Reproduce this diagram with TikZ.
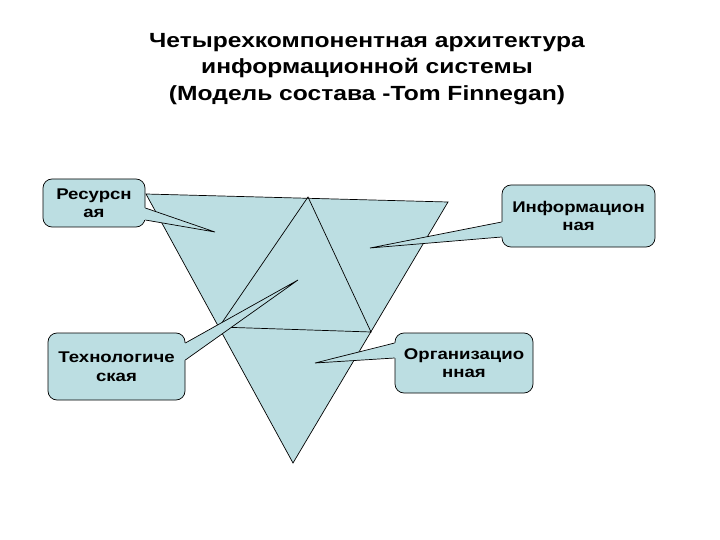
\documentclass[tikz,border=0pt]{standalone}
\usepackage{fontspec}
\setmainfont{Liberation Sans}[FakeStretch=1.2]
\usepackage{tikz}
\definecolor{callfill}{RGB}{188,222,226}
\tikzset{call node/.style={rectangle,rounded corners=9pt,fill=callfill,draw,line width=0.7pt,
	align=center,font=\bfseries\fontsize{15.5}{18.5}\selectfont,inner sep=0pt},
}

\begin{document}
\begin{tikzpicture}[x=1pt,y=-1pt,thin line/.style={draw,line width=0.7pt},
		title node/.style={align=center,font=\bfseries\fontsize{20.5}{26.5}\selectfont}]
		\useasboundingbox (0,0) rectangle (720,540);
		
		% triangle
		\coordinate (A) at (146,194);
		\coordinate (B) at (448,202);
		\coordinate (C) at (293,463);
		\coordinate (D) at (308,197);
		\coordinate (E) at (219,327);
		\coordinate (F) at (371,332);
		\filldraw[fill=callfill,line width=0.7pt] (A) -- (B) -- (C) -- cycle;
		\draw[thin line] (D) -- (E) -- (F) -- cycle;
		
		\node[title node] (title) at (367,69) {Четырехкомпонентная архитектура\\информационной системы\\(Модель состава -Tom Finnegan)};
		
		\node[call node,minimum width=102pt,minimum height=48pt] (res) at (94,203) {Ресурсн\\ая};
		\node[call node,minimum width=137pt,minimum height=67pt] (tech) at (116.5,366.5) {Технологиче\\ская};
		\node[call node,minimum width=153pt,minimum height=62pt] (info) at (578.5,216) {Информацион\\ная};
		\node[call node,minimum width=138pt,minimum height=60pt] (org) at (464,363) {Организацио\\нная};
		
		\coordinate (resTip) at (215,232);
		\coordinate (techTip) at (298,280);
		\coordinate (infoTip) at (370,248);
		\coordinate (orgTip) at (315,363);
		
		% pointers
		\fill[callfill] ([xshift=-2pt,yshift=-5pt]res.east) -- ([yshift=-5pt]res.east) -- (resTip)
		-- ([yshift=-17pt]res.east) -- ([xshift=-2pt,yshift=-17pt]res.east) -- cycle;
		\draw[thin line] ([yshift=-5pt]res.east) -- (resTip) -- ([yshift=-17pt]res.east);
		
		\fill[callfill] ([xshift=-2pt,yshift=23.5pt]tech.east) -- ([yshift=23.5pt]tech.east) -- (techTip)
		-- ([yshift=6.5pt]tech.east) -- ([xshift=-2pt,yshift=6.5pt]tech.east) -- cycle;
		\draw[thin line] ([yshift=23.5pt]tech.east) -- (techTip) -- ([yshift=6.5pt]tech.east);
		
		\fill[callfill] ([xshift=2pt,yshift=-6pt]info.west) -- ([yshift=-6pt]info.west) -- (infoTip)
		-- ([yshift=-21pt]info.west) -- ([xshift=2pt,yshift=-21pt]info.west) -- cycle;
		\draw[thin line] ([yshift=-6pt]info.west) -- (infoTip) -- ([yshift=-21pt]info.west);
		
		\fill[callfill] ([xshift=2pt,yshift=20pt]org.west) -- ([yshift=20pt]org.west) -- (orgTip)
		-- ([yshift=5pt]org.west) -- ([xshift=2pt,yshift=5pt]org.west) -- cycle;
		\draw[thin line] ([yshift=20pt]org.west) -- (orgTip) -- ([yshift=5pt]org.west);
		
	\end{tikzpicture}
\end{document}
